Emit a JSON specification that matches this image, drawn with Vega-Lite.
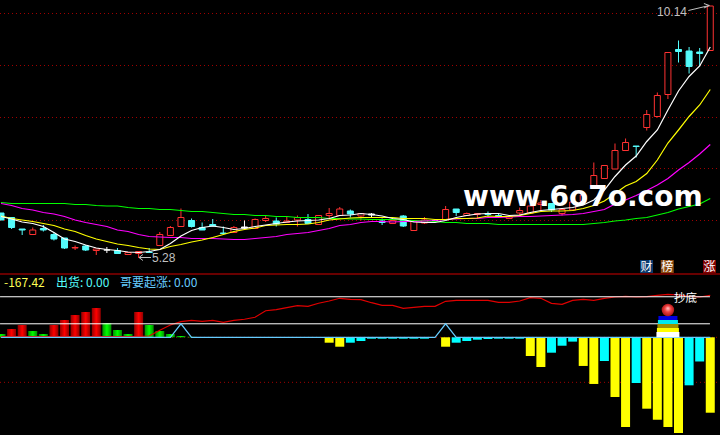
{"$schema":"https://vega.github.io/schema/vega-lite/v6.json","background":"#000000","padding":0,"autosize":{"type":"none"},"width":720,"height":435,"config":{"view":{"stroke":null}},
"resolve":{"scale":{"y":"independent","color":"independent","size":"independent"}},
"datasets":{
"candles":[
{"i":0,"o":6.00,"c":5.86,"h":6.00,"l":5.86,"k":"down"},{"i":1,"o":5.91,"c":5.71,"h":5.91,"l":5.68,"k":"down"},{"i":2,"o":5.68,"c":5.66,"h":5.68,"l":5.56,"k":"down"},{"i":3,"o":5.57,"c":5.66,"h":5.71,"l":5.57,"k":"up"},{"i":4,"o":5.69,"c":5.66,"h":5.76,"l":5.63,"k":"down"},{"i":5,"o":5.57,"c":5.48,"h":5.61,"l":5.45,"k":"down"},{"i":6,"o":5.50,"c":5.30,"h":5.50,"l":5.28,"k":"down"},{"i":7,"o":5.30,"c":5.31,"h":5.35,"l":5.26,"k":"up"},{"i":8,"o":5.34,"c":5.26,"h":5.36,"l":5.24,"k":"down"},{"i":9,"o":5.25,"c":5.28,"h":5.28,"l":5.16,"k":"up"},
{"i":10,"o":5.26,"c":5.26,"h":5.32,"l":5.20,"k":"doji"},{"i":11,"o":5.25,"c":5.19,"h":5.30,"l":5.19,"k":"down"},{"i":12,"o":5.17,"c":5.21,"h":5.21,"l":5.17,"k":"up"},{"i":13,"o":5.19,"c":5.23,"h":5.23,"l":5.10,"k":"up"},{"i":14,"o":5.22,"c":5.21,"h":5.30,"l":5.21,"k":"down"},{"i":15,"o":5.35,"c":5.57,"h":5.62,"l":5.35,"k":"up"},{"i":16,"o":5.55,"c":5.71,"h":5.74,"l":5.54,"k":"up"},{"i":17,"o":5.73,"c":5.91,"h":6.09,"l":5.73,"k":"up"},{"i":18,"o":5.85,"c":5.73,"h":5.89,"l":5.71,"k":"down"},{"i":19,"o":5.71,"c":5.66,"h":5.81,"l":5.66,"k":"down"},
{"i":20,"o":5.77,"c":5.74,"h":5.88,"l":5.74,"k":"down"},{"i":21,"o":5.60,"c":5.59,"h":5.73,"l":5.59,"k":"down"},{"i":22,"o":5.61,"c":5.71,"h":5.74,"l":5.60,"k":"up"},{"i":23,"o":5.72,"c":5.70,"h":5.85,"l":5.68,"k":"doji"},{"i":24,"o":5.69,"c":5.87,"h":5.89,"l":5.68,"k":"up"},{"i":25,"o":5.85,"c":5.89,"h":5.94,"l":5.82,"k":"up"},{"i":26,"o":5.84,"c":5.78,"h":5.91,"l":5.73,"k":"down"},{"i":27,"o":5.81,"c":5.84,"h":5.92,"l":5.80,"k":"up"},{"i":28,"o":5.86,"c":5.91,"h":5.95,"l":5.73,"k":"up"},{"i":29,"o":5.87,"c":5.79,"h":5.98,"l":5.78,"k":"down"},
{"i":30,"o":5.77,"c":5.95,"h":5.95,"l":5.77,"k":"up"},{"i":31,"o":5.95,"c":5.99,"h":6.10,"l":5.89,"k":"up"},{"i":32,"o":5.95,"c":6.08,"h":6.12,"l":5.94,"k":"up"},{"i":33,"o":6.04,"c":5.98,"h":6.07,"l":5.91,"k":"down"},{"i":34,"o":5.94,"c":5.99,"h":6.00,"l":5.85,"k":"up"},{"i":35,"o":5.98,"c":5.96,"h":6.00,"l":5.90,"k":"doji"},{"i":36,"o":5.84,"c":5.81,"h":5.89,"l":5.76,"k":"down"},{"i":37,"o":5.79,"c":5.85,"h":5.88,"l":5.78,"k":"up"},{"i":38,"o":5.94,"c":5.74,"h":5.96,"l":5.72,"k":"down"},{"i":39,"o":5.65,"c":5.83,"h":5.83,"l":5.65,"k":"up"},
{"i":40,"o":5.80,"c":5.86,"h":5.92,"l":5.78,"k":"up"},{"i":41,"o":5.85,"c":5.85,"h":5.86,"l":5.84,"k":"doji"},{"i":42,"o":5.87,"c":6.07,"h":6.14,"l":5.87,"k":"up"},{"i":43,"o":6.08,"c":6.01,"h":6.08,"l":5.94,"k":"down"},{"i":44,"o":5.95,"c":5.99,"h":6.01,"l":5.95,"k":"up"},{"i":45,"o":5.97,"c":5.99,"h":5.99,"l":5.90,"k":"up"},{"i":46,"o":5.99,"c":5.97,"h":6.03,"l":5.93,"k":"down"},{"i":47,"o":5.95,"c":5.93,"h":5.99,"l":5.93,"k":"down"},{"i":48,"o":5.89,"c":5.93,"h":5.93,"l":5.89,"k":"up"},{"i":49,"o":6.00,"c":6.05,"h":6.11,"l":5.96,"k":"up"},
{"i":50,"o":6.00,"c":6.14,"h":6.14,"l":6.00,"k":"up"},{"i":51,"o":6.17,"c":6.20,"h":6.26,"l":6.06,"k":"up"},{"i":52,"o":6.19,"c":6.06,"h":6.19,"l":6.02,"k":"down"},{"i":53,"o":5.99,"c":6.07,"h":6.10,"l":5.95,"k":"up"},{"i":54,"o":6.06,"c":6.22,"h":6.22,"l":6.06,"k":"up"},{"i":55,"o":6.23,"c":6.36,"h":6.42,"l":6.18,"k":"up"},{"i":56,"o":6.51,"c":6.75,"h":7.01,"l":6.50,"k":"up"},{"i":57,"o":6.69,"c":6.95,"h":6.96,"l":6.68,"k":"up"},{"i":58,"o":6.88,"c":7.25,"h":7.39,"l":6.88,"k":"up"},{"i":59,"o":7.25,"c":7.41,"h":7.49,"l":7.25,"k":"up"},
{"i":60,"o":7.34,"c":7.33,"h":7.34,"l":7.11,"k":"down"},{"i":61,"o":7.71,"c":7.97,"h":8.06,"l":7.65,"k":"up"},{"i":62,"o":7.93,"c":8.35,"h":8.41,"l":7.91,"k":"up"},{"i":63,"o":8.37,"c":9.21,"h":9.21,"l":8.28,"k":"up"},{"i":64,"o":9.27,"c":9.23,"h":9.45,"l":9.01,"k":"down"},{"i":65,"o":9.24,"c":8.93,"h":9.32,"l":8.79,"k":"down"},{"i":66,"o":9.22,"c":9.19,"h":9.30,"l":8.93,"k":"down"},{"i":67,"o":9.25,"c":10.14,"h":10.14,"l":9.25,"k":"up"}
],
"ma":[
{"i":0,"m5":5.93,"m10":5.94,"m20":6.19,"m60":6.21},{"i":1,"m5":5.88,"m10":5.89,"m20":6.15,"m60":6.19},{"i":2,"m5":5.82,"m10":5.86,"m20":6.09,"m60":6.19},{"i":3,"m5":5.79,"m10":5.83,"m20":6.06,"m60":6.19},{"i":4,"m5":5.73,"m10":5.79,"m20":6.01,"m60":6.19},{"i":5,"m5":5.61,"m10":5.75,"m20":5.98,"m60":6.19},{"i":6,"m5":5.48,"m10":5.68,"m20":5.93,"m60":6.19},{"i":7,"m5":5.43,"m10":5.63,"m20":5.86,"m60":6.17},{"i":8,"m5":5.36,"m10":5.55,"m20":5.81,"m60":6.17},{"i":9,"m5":5.30,"m10":5.48,"m20":5.77,"m60":6.15},
{"i":10,"m5":5.27,"m10":5.43,"m20":5.73,"m60":6.14},{"i":11,"m5":5.25,"m10":5.38,"m20":5.66,"m60":6.14},{"i":12,"m5":5.22,"m10":5.35,"m20":5.63,"m60":6.11},{"i":13,"m5":5.21,"m10":5.31,"m20":5.57,"m60":6.09},{"i":14,"m5":5.23,"m10":5.28,"m20":5.53,"m60":6.09},{"i":15,"m5":5.27,"m10":5.27,"m20":5.52,"m60":6.07},{"i":16,"m5":5.39,"m10":5.33,"m20":5.51,"m60":6.07},{"i":17,"m5":5.54,"m10":5.37,"m20":5.51,"m60":6.05},{"i":18,"m5":5.65,"m10":5.42,"m20":5.49,"m60":6.03},{"i":19,"m5":5.71,"m10":5.46,"m20":5.49,"m60":6.03},
{"i":20,"m5":5.74,"m10":5.51,"m20":5.49,"m60":6.01},{"i":21,"m5":5.71,"m10":5.57,"m20":5.48,"m60":5.99},{"i":22,"m5":5.67,"m10":5.63,"m20":5.47,"m60":5.97},{"i":23,"m5":5.69,"m10":5.67,"m20":5.47,"m60":5.97},{"i":24,"m5":5.73,"m10":5.70,"m20":5.49,"m60":5.95},{"i":25,"m5":5.76,"m10":5.75,"m20":5.51,"m60":5.95},{"i":26,"m5":5.79,"m10":5.76,"m20":5.53,"m60":5.93},{"i":27,"m5":5.82,"m10":5.77,"m20":5.57,"m60":5.93},{"i":28,"m5":5.84,"m10":5.77,"m20":5.59,"m60":5.91},{"i":29,"m5":5.85,"m10":5.78,"m20":5.61,"m60":5.91},
{"i":30,"m5":5.86,"m10":5.81,"m20":5.65,"m60":5.91},{"i":31,"m5":5.89,"m10":5.86,"m20":5.69,"m60":5.89},{"i":32,"m5":5.95,"m10":5.88,"m20":5.75,"m60":5.89},{"i":33,"m5":5.96,"m10":5.90,"m20":5.77,"m60":5.88},{"i":34,"m5":5.99,"m10":5.91,"m20":5.81,"m60":5.88},{"i":35,"m5":5.97,"m10":5.91,"m20":5.83,"m60":5.87},{"i":36,"m5":5.94,"m10":5.91,"m20":5.83,"m60":5.87},{"i":37,"m5":5.89,"m10":5.91,"m20":5.82,"m60":5.87},{"i":38,"m5":5.87,"m10":5.89,"m20":5.83,"m60":5.86},{"i":39,"m5":5.82,"m10":5.89,"m20":5.83,"m60":5.85},
{"i":40,"m5":5.81,"m10":5.89,"m20":5.84,"m60":5.84},{"i":41,"m5":5.81,"m10":5.87,"m20":5.85,"m60":5.83},{"i":42,"m5":5.85,"m10":5.87,"m20":5.87,"m60":5.81},{"i":43,"m5":5.91,"m10":5.89,"m20":5.88,"m60":5.81},{"i":44,"m5":5.95,"m10":5.89,"m20":5.89,"m60":5.79},{"i":45,"m5":5.98,"m10":5.90,"m20":5.89,"m60":5.79},{"i":46,"m5":5.99,"m10":5.94,"m20":5.91,"m60":5.79},{"i":47,"m5":5.99,"m10":5.93,"m20":5.91,"m60":5.77},{"i":48,"m5":5.95,"m10":5.93,"m20":5.92,"m60":5.77},{"i":49,"m5":5.96,"m10":5.95,"m20":5.93,"m60":5.77},
{"i":50,"m5":6.01,"m10":5.99,"m20":5.93,"m60":5.77},{"i":51,"m5":6.05,"m10":6.03,"m20":5.94,"m60":5.77},{"i":52,"m5":6.07,"m10":6.04,"m20":5.95,"m60":5.77},{"i":53,"m5":6.09,"m10":6.04,"m20":5.96,"m60":5.77},{"i":54,"m5":6.11,"m10":6.05,"m20":5.97,"m60":5.77},{"i":55,"m5":6.16,"m10":6.09,"m20":5.99,"m60":5.77},{"i":56,"m5":6.26,"m10":6.15,"m20":6.03,"m60":5.79},{"i":57,"m5":6.46,"m10":6.24,"m20":6.07,"m60":5.81},{"i":58,"m5":6.73,"m10":6.39,"m20":6.18,"m60":5.84},{"i":59,"m5":6.96,"m10":6.54,"m20":6.26,"m60":5.86},
{"i":60,"m5":7.14,"m10":6.63,"m20":6.35,"m60":5.89},{"i":61,"m5":7.43,"m10":6.79,"m20":6.45,"m60":5.91},{"i":62,"m5":7.66,"m10":7.06,"m20":6.56,"m60":5.96},{"i":63,"m5":8.06,"m10":7.40,"m20":6.69,"m60":6.01},{"i":64,"m5":8.44,"m10":7.66,"m20":6.86,"m60":6.08},{"i":65,"m5":8.73,"m10":7.93,"m20":7.01,"m60":6.13},{"i":66,"m5":8.94,"m10":8.16,"m20":7.18,"m60":6.18},{"i":67,"m5":9.32,"m10":8.47,"m20":7.37,"m60":6.29}
],
"ind":[
{"i":0,"bar":7.3,"k":"green","red":1.8,"rise":0},{"i":1,"bar":18.4,"k":"red","red":1.8,"rise":0},{"i":2,"bar":27.3,"k":"red","red":1.8,"rise":0},{"i":3,"bar":14,"k":"green","red":1.8,"rise":0},{"i":4,"bar":7.3,"k":"green","red":1.8,"rise":0},{"i":5,"bar":27.3,"k":"red","red":1.8,"rise":0},{"i":6,"bar":38.4,"k":"red","red":1.8,"rise":0},{"i":7,"bar":49.5,"k":"red","red":1.8,"rise":0},{"i":8,"bar":56.2,"k":"red","red":1.8,"rise":0},{"i":9,"bar":65.1,"k":"red","red":1.8,"rise":0},
{"i":10,"bar":31.7,"k":"green","red":1.8,"rise":0},{"i":11,"bar":16.2,"k":"green","red":1.8,"rise":0},{"i":12,"bar":7.3,"k":"green","red":1.8,"rise":0},{"i":13,"bar":56.2,"k":"red","red":1.8,"rise":0},{"i":14,"bar":27.3,"k":"green","red":2.9,"rise":0},{"i":15,"bar":14,"k":"green","red":15.5,"rise":0},{"i":16,"bar":7.3,"k":"green","red":27.3,"rise":0},{"i":17,"bar":2.9,"k":"green","red":34.6,"rise":30},{"i":18,"bar":1,"k":"green","red":37.7,"rise":0},{"i":19,"bar":0,"k":"none","red":35.5,"rise":0},
{"i":20,"bar":0,"k":"none","red":37.7,"rise":0},{"i":21,"bar":0,"k":"none","red":33.3,"rise":0},{"i":22,"bar":0,"k":"none","red":37.7,"rise":0},{"i":23,"bar":0,"k":"none","red":40,"rise":0},{"i":24,"bar":0,"k":"none","red":44.4,"rise":0},{"i":25,"bar":0,"k":"none","red":59,"rise":0},{"i":26,"bar":0,"k":"none","red":61.3,"rise":0},{"i":27,"bar":0,"k":"none","red":65.7,"rise":0},{"i":28,"bar":0,"k":"none","red":70.2,"rise":0},{"i":29,"bar":0,"k":"none","red":68.8,"rise":0},
{"i":30,"bar":0,"k":"none","red":75.5,"rise":0},{"i":31,"bar":-12,"k":"yellow","red":80.6,"rise":0},{"i":32,"bar":-20.9,"k":"yellow","red":86.6,"rise":0},{"i":33,"bar":-12,"k":"cyan","red":84.4,"rise":0},{"i":34,"bar":-8.2,"k":"cyan","red":83.5,"rise":0},{"i":35,"bar":-3.1,"k":"cyan","red":76.8,"rise":0},{"i":36,"bar":-3.1,"k":"cyan","red":71,"rise":0},{"i":37,"bar":-3.1,"k":"cyan","red":71,"rise":0},{"i":38,"bar":-3.1,"k":"cyan","red":64.4,"rise":0},{"i":39,"bar":-3.1,"k":"cyan","red":66.6,"rise":0},
{"i":40,"bar":-3.1,"k":"cyan","red":68.8,"rise":0},{"i":41,"bar":0,"k":"none","red":68.8,"rise":0},{"i":42,"bar":-20.9,"k":"yellow","red":79.9,"rise":30},{"i":43,"bar":-12,"k":"cyan","red":82.1,"rise":0},{"i":44,"bar":-8.2,"k":"cyan","red":82.1,"rise":0},{"i":45,"bar":-5.3,"k":"cyan","red":82.1,"rise":0},{"i":46,"bar":-3.8,"k":"cyan","red":82.1,"rise":0},{"i":47,"bar":-3.1,"k":"cyan","red":77.7,"rise":0},{"i":48,"bar":-3.1,"k":"cyan","red":77.7,"rise":0},{"i":49,"bar":-3.1,"k":"cyan","red":80.6,"rise":0},
{"i":50,"bar":-41.5,"k":"yellow","red":87.9,"rise":0},{"i":51,"bar":-65.9,"k":"yellow","red":86.6,"rise":0},{"i":52,"bar":-34.2,"k":"cyan","red":75.5,"rise":0},{"i":53,"bar":-18.7,"k":"cyan","red":73.3,"rise":0},{"i":54,"bar":-9.6,"k":"cyan","red":82.1,"rise":0},{"i":55,"bar":-63.6,"k":"yellow","red":84.4,"rise":0},{"i":56,"bar":-103.6,"k":"yellow","red":82.1,"rise":0},{"i":57,"bar":-52.6,"k":"cyan","red":86.6,"rise":0},{"i":58,"bar":-132.5,"k":"yellow","red":89.5,"rise":0},{"i":59,"bar":-198.9,"k":"yellow","red":91,"rise":0},
{"i":60,"bar":-101.4,"k":"cyan","red":89.5,"rise":0},{"i":61,"bar":-158.5,"k":"yellow","red":90.1,"rise":0},{"i":62,"bar":-183,"k":"yellow","red":93.2,"rise":0},{"i":63,"bar":-198.9,"k":"yellow","red":95.5,"rise":0},{"i":64,"bar":-212.2,"k":"yellow","red":93.9,"rise":0},{"i":65,"bar":-106.6,"k":"cyan","red":91,"rise":0},{"i":66,"bar":-53.7,"k":"cyan","red":89.5,"rise":0},{"i":67,"bar":-167.42,"k":"yellow","red":93.2,"rise":0}
]},
"encoding":{"x":{"field":"i","type":"quantitative","axis":null,"scale":{"domain":[-0.0945,67.92],"nice":false,"zero":false,"padding":0}}},
"layer":[
{"resolve":{"scale":{"color":"independent"}},
"layer":[
{"data":{"values":[{"p":9.99},{"p":8.95},{"p":7.91},{"p":6.89},{"p":5.85}]},"mark":{"type":"rule","color":"#a00000","strokeWidth":1,"strokeDash":[1,3]},"encoding":{"x":{"value":0},"x2":{"value":720},"y":{"field":"p","type":"quantitative","axis":null,"scale":{"domain":[1.56,10.26],"nice":false,"zero":false}}}},
{"data":{"values":[{"p":4.78}]},"mark":{"type":"rule","color":"#d00000","strokeWidth":1},"encoding":{"x":{"value":0},"x2":{"value":720},"y":{"field":"p","type":"quantitative"}}},
{"data":{"name":"candles"},"mark":{"type":"rule","strokeWidth":1,"clip":true},"encoding":{"y":{"field":"h","type":"quantitative"},"y2":{"field":"l"},"color":{"field":"k","type":"nominal","legend":null,"scale":{"domain":["up","down","doji"],"range":["#ff3232","#54fcfc","#ffffff"]}}}},
{"data":{"name":"candles"},"mark":{"type":"bar","size":6,"strokeWidth":1,"clip":true},"encoding":{"y":{"field":"o","type":"quantitative"},"y2":{"field":"c"},"fill":{"field":"k","type":"nominal","legend":null,"scale":{"domain":["up","down","doji"],"range":["#000000","#54fcfc","#ffffff"]}},"stroke":{"field":"k","type":"nominal","legend":null,"scale":{"domain":["up","down","doji"],"range":["#ff3232","#54fcfc","#ffffff"]}}}},
{"data":{"name":"ma"},"mark":{"type":"line","color":"#00ff00","strokeWidth":1.2},"encoding":{"y":{"field":"m60","type":"quantitative"}}},
{"data":{"name":"ma"},"mark":{"type":"line","color":"#ff00ff","strokeWidth":1.2},"encoding":{"y":{"field":"m20","type":"quantitative"}}},
{"data":{"name":"ma"},"mark":{"type":"line","color":"#ffff00","strokeWidth":1.2},"encoding":{"y":{"field":"m10","type":"quantitative"}}},
{"data":{"name":"ma"},"mark":{"type":"line","color":"#ffffff","strokeWidth":1.2},"encoding":{"y":{"field":"m5","type":"quantitative"}}},
{"data":{"values":[{"i":13.41,"p":5.17,"g":"a","n":1},{"i":13.04,"p":5.11,"g":"a","n":2},{"i":13.41,"p":5.05,"g":"a","n":3},{"i":13.04,"p":5.11,"g":"b","n":1},{"i":14.17,"p":5.11,"g":"b","n":2},{"i":66.4,"p":10.19,"g":"c","n":1},{"i":66.91,"p":10.15,"g":"c","n":2},{"i":66.4,"p":10.10,"g":"c","n":3},{"i":64.93,"p":10.05,"g":"d","n":1},{"i":66.91,"p":10.15,"g":"d","n":2}]},"mark":{"type":"line","color":"#c0c0c0","strokeWidth":1},"encoding":{"y":{"field":"p","type":"quantitative"},"detail":{"field":"g"},"order":{"field":"n"}}},
{"data":{"values":[{"i":14.26,"p":5.10,"t":"5.28"},{"i":61.97,"p":10.03,"t":"10.14"}]},"mark":{"type":"text","align":"left","baseline":"middle","font":"Liberation Sans","fontSize":12,"color":"#c0c0c0"},"encoding":{"y":{"field":"p","type":"quantitative"},"text":{"field":"t"}}},
{"data":{"values":[{"i":60.98,"k":"财"},{"i":62.94,"k":"榜"},{"i":66.93,"k":"涨"}]},"mark":{"type":"bar","size":13},"encoding":{"y":{"datum":5.06,"type":"quantitative"},"y2":{"datum":4.8},"color":{"field":"k","type":"nominal","legend":null,"scale":{"domain":["财","榜","涨"],"range":["#0a3a6e","#8a4a10","#800000"]}}}},
{"data":{"values":[{"i":60.98,"p":4.93,"t":"财"},{"i":62.94,"p":4.93,"t":"榜"},{"i":66.93,"p":4.93,"t":"涨"}]},"mark":{"type":"text","align":"center","baseline":"middle","font":"Noto Sans CJK SC","fontSize":12,"color":"#ffffff"},"encoding":{"y":{"field":"p","type":"quantitative"},"text":{"field":"t"}}},
{"data":{"values":[{"i":43.65,"p":6.14,"t":"www.6o7o.com"}]},"mark":{"type":"text","align":"left","baseline":"alphabetic","font":"DejaVu Sans","fontWeight":"bold","fontSize":28,"color":"#ffffff"},"encoding":{"y":{"field":"p","type":"quantitative"},"text":{"field":"t"}}}
]},
{"resolve":{"scale":{"color":"independent"}},
"layer":[
{"data":{"values":[{"v":-100},{"v":0}]},"mark":{"type":"rule","color":"#a00000","strokeWidth":1,"strokeDash":[1,3]},"encoding":{"x":{"value":0},"x2":{"value":720},"y":{"field":"v","type":"quantitative","axis":null,"scale":{"domain":[-216.9,748.8],"nice":false,"zero":false}}}},
{"data":{"name":"ind"},"transform":[{"filter":"datum.k==='red'"}],"mark":{"type":"bar","size":9,"clip":true,"color":{"gradient":"linear","x1":0,"x2":1,"y1":0,"y2":0,"stops":[{"offset":0,"color":"#900000"},{"offset":0.5,"color":"#ff0000"},{"offset":1,"color":"#900000"}]}},"encoding":{"y":{"field":"bar","type":"quantitative"},"y2":{"datum":0}}},
{"data":{"name":"ind"},"transform":[{"filter":"datum.k==='green'"}],"mark":{"type":"bar","size":9,"clip":true,"color":{"gradient":"linear","x1":0,"x2":1,"y1":0,"y2":0,"stops":[{"offset":0,"color":"#009000"},{"offset":0.5,"color":"#00ff00"},{"offset":1,"color":"#009000"}]}},"encoding":{"y":{"field":"bar","type":"quantitative"},"y2":{"datum":0}}},
{"data":{"name":"ind"},"transform":[{"filter":"datum.k==='yellow'"}],"mark":{"type":"bar","size":9,"color":"#ffff00"},"encoding":{"y":{"field":"bar","type":"quantitative"},"y2":{"datum":0}}},
{"data":{"name":"ind"},"transform":[{"filter":"datum.k==='cyan'"}],"mark":{"type":"bar","size":9,"color":"#00ffff"},"encoding":{"y":{"field":"bar","type":"quantitative"},"y2":{"datum":0}}},
{"data":{"name":"ind"},"mark":{"type":"line","color":"#e00000","strokeWidth":1.2},"encoding":{"y":{"field":"red","type":"quantitative"}}},
{"data":{"values":[{"v":90,"a":-0.09,"b":66.97},{"v":30,"a":-0.09,"b":66.97}]},"mark":{"type":"rule","color":"#ffffff","strokeWidth":1},"encoding":{"x":{"field":"a","type":"quantitative"},"x2":{"field":"b"},"y":{"field":"v","type":"quantitative"}}},
{"data":{"name":"ind"},"mark":{"type":"line","color":"#66ccff","strokeWidth":1.2},"encoding":{"y":{"field":"rise","type":"quantitative"}}},
{"data":{"values":[{"i":63,"a":0,"b":11.8,"t":"t1"},{"i":63,"a":11.8,"b":20.6,"t":"t2"},{"i":63,"a":20.6,"b":29.5,"t":"t3"},{"i":63,"a":29.5,"b":38.4,"t":"t4"},{"i":63,"a":38.4,"b":47.3,"t":"t5"}]},"mark":{"type":"bar"},"encoding":{"y":{"field":"a","type":"quantitative"},"y2":{"field":"b"},"color":{"field":"t","type":"nominal","legend":null,"scale":{"domain":["t1","t2","t3","t4","t5"],"range":["#ffffff","#ffff00","#a09000","#00e8f0","#0000e0"]}},"size":{"field":"t","type":"nominal","legend":null,"scale":{"domain":["t1","t2","t3","t4","t5"],"range":[23,19,17,15,13]}}}},
{"data":{"values":[{"i":63,"v":60.6}]},"mark":{"type":"point","filled":true,"size":154,"opacity":1,"fill":{"gradient":"radial","x1":0.5,"y1":0.35,"r1":0,"x2":0.5,"y2":0.5,"r2":0.55,"stops":[{"offset":0,"color":"#ffd0d0"},{"offset":0.45,"color":"#f04040"},{"offset":1,"color":"#a01010"}]}},"encoding":{"y":{"field":"v","type":"quantitative"}}},
{"data":{"values":[{"i":63.57,"v":86,"t":"抄底"}]},"mark":{"type":"text","align":"left","baseline":"middle","font":"Noto Sans CJK SC","fontSize":11.5,"color":"#ffffff"},"encoding":{"y":{"field":"v","type":"quantitative"},"text":{"field":"t"}}},
{"data":{"values":[{"i":0.28,"v":120.5,"t":"-167.42","s":"a"},{"i":5.2,"v":120.5,"t":"出货: 0.00","s":"b"},{"i":11.24,"v":120.5,"t":"哥要起涨: 0.00","s":"c"}]},"mark":{"type":"text","align":"left","baseline":"middle","font":"Noto Sans CJK SC","fontSize":12},"encoding":{"y":{"field":"v","type":"quantitative"},"text":{"field":"t"},"color":{"field":"s","type":"nominal","legend":null,"scale":{"domain":["a","b","c"],"range":["#ffff54","#54fcfc","#66ccff"]}}}}
]}
]}
